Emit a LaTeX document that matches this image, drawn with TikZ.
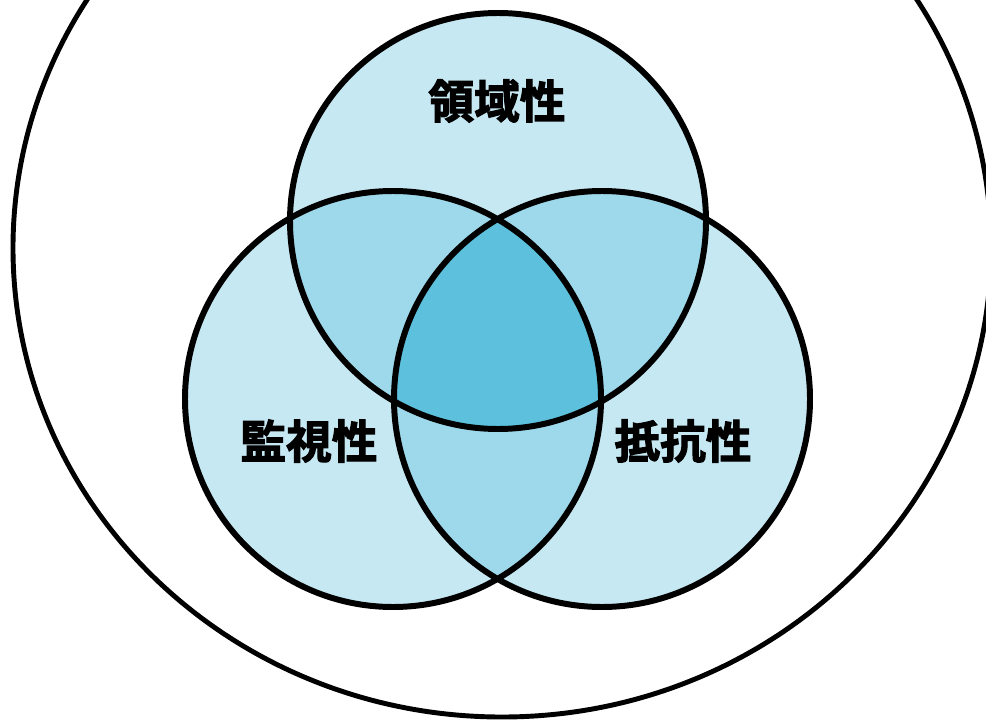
\documentclass[tikz,border=0pt]{standalone}
\usepackage{fontspec}
\newfontfamily\jpfont[BoldFont={Noto Sans CJK JP Bold}, BoldFeatures={FakeBold=2.5}]{Noto Sans CJK JP}
\usepackage{tikz}

\definecolor{onecol}{RGB}{197,232,242}
\definecolor{twocol}{RGB}{157,217,235}
\definecolor{threecol}{RGB}{93,192,220}

\begin{document}
\begin{tikzpicture}[x=0.02cm, y=0.02cm,
            ring/.style={draw, line width=3.4pt},
            label/.style={font=\jpfont\bfseries\fontsize{26pt}{26pt}\selectfont}]
            \useasboundingbox (0,0) rectangle (986,721);

            \coordinate (T) at (498,500);
            \coordinate (L) at (393,322);
            \coordinate (R) at (602,322);

            % outer ellipse
            \draw[line width=2.8pt] (502,473) ellipse [x radius=489, y radius=469];

            \fill[onecol] (T) circle (208);
            \fill[onecol] (L) circle (208);
            \fill[onecol] (R) circle (208);

            \begin{scope}
                \clip (T) circle (208);
                \fill[twocol] (L) circle (208);
                \fill[twocol] (R) circle (208);
            \end{scope}
            \begin{scope}
                \clip (L) circle (208);
                \fill[twocol] (R) circle (208);
            \end{scope}
            \begin{scope}
                \clip (T) circle (208);
                \clip (L) circle (208);
                \fill[threecol] (R) circle (208);
            \end{scope}

            \draw[ring] (T) circle (208);
            \draw[ring] (L) circle (208);
            \draw[ring] (R) circle (208);

            \node[label] (ryoiki) at (497,620) {領域性};
            \node[label] (kanshi) at (309,280) {監視性};
            \node[label] (teiko) at (683,280) {抵抗性};
        \end{tikzpicture}
\end{document}
